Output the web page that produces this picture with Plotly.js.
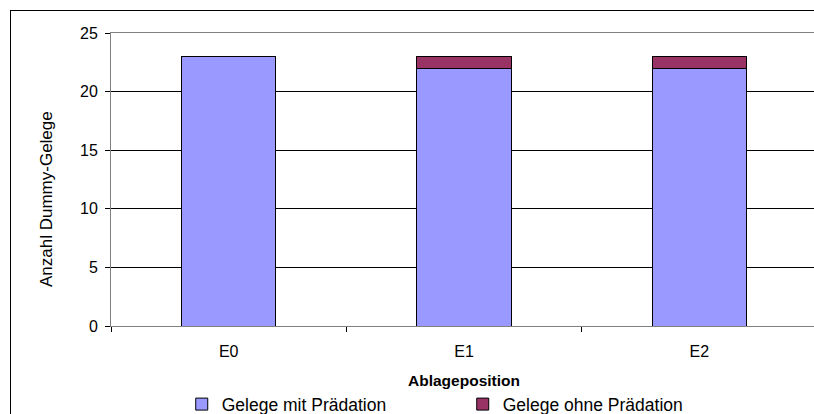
<!DOCTYPE html>
<html>
<head>
<meta charset="utf-8">
<script src="https://cdn.plot.ly/plotly-3.0.1.min.js"></script>
<style>
html,body{margin:0;padding:0;background:#fff;overflow:hidden;width:814px;height:414px;}
#wrap{position:relative;width:814px;height:414px;overflow:hidden;}
#chart{position:absolute;left:0;top:0;width:818px;height:450px;}
#frame{position:absolute;left:10px;top:10px;width:900px;height:500px;border-left:1px solid #000;border-top:1px solid #000;pointer-events:none;}
</style>
</head>
<body>
<div id="wrap"><div id="chart"></div><div id="frame"></div></div>
<script>
const categories = ["E0", "E1", "E2"];
const mitPraedation = [23, 22, 22];
const ohnePraedation = [0, 1, 1];
const seriesNames = ["Gelege mit Prädation", "Gelege ohne Prädation"];
const yTicks = [0, 5, 10, 15, 20, 25];

const font = "Liberation Sans, Arial, sans-serif";
const traces = [
  {type: "bar", name: seriesNames[0], x: categories, y: mitPraedation,
   marker: {color: "#9999FF", line: {color: "#000", width: 1}}},
  {type: "bar", name: seriesNames[1], x: categories, y: ohnePraedation,
   marker: {color: "#993366", line: {color: "#000", width: 1}}}
];
const layout = {
  width: 818, height: 450,
  margin: {l: 111, r: 1, t: 33, b: 124},
  barmode: "stack", bargap: 0.6,
  paper_bgcolor: "#fff", plot_bgcolor: "#fff",
  font: {family: font, size: 16, color: "#000"},
  showlegend: true,
  legend: {orientation: "h", x: 0.1002, xanchor: "left", y: -0.267, yanchor: "middle",
    font: {family: font, size: 17.5, color: "#000"}, entrywidth: 236, entrywidthmode: "pixels",
    traceorder: "normal", bgcolor: "rgba(0,0,0,0)"},
  xaxis: {type: "category", tickson: "boundaries", ticks: "outside", ticklen: 5, tickcolor: "#000",
    showline: true, linecolor: "#808080", linewidth: 1, mirror: true, showgrid: false,
    tickfont: {family: font, size: 16}, ticklabelstandoff: 11, automargin: false,
    title: {text: "<b>Ablageposition</b>", font: {family: font, size: 15.5}, standoff: 15}},
  yaxis: {range: [0, 25], tickvals: yTicks, ticks: "outside", ticklen: 5, tickcolor: "#000",
    showline: true, linecolor: "#808080", linewidth: 1, mirror: true,
    showgrid: true, gridcolor: "#000", gridwidth: 1, zeroline: false,
    tickfont: {family: font, size: 16}, ticklabelstandoff: 4, automargin: false},
  annotations: [{text: "Anzahl Dummy-Gelege", xref: "paper", yref: "paper", x: 0, y: 0.5,
    xshift: -76, yshift: -20, textangle: -90, showarrow: false,
    font: {family: font, size: 17, color: "#000"}}]
};
Plotly.newPlot("chart", traces, layout, {staticPlot: true, displayModeBar: false});
</script>
</body>
</html>
